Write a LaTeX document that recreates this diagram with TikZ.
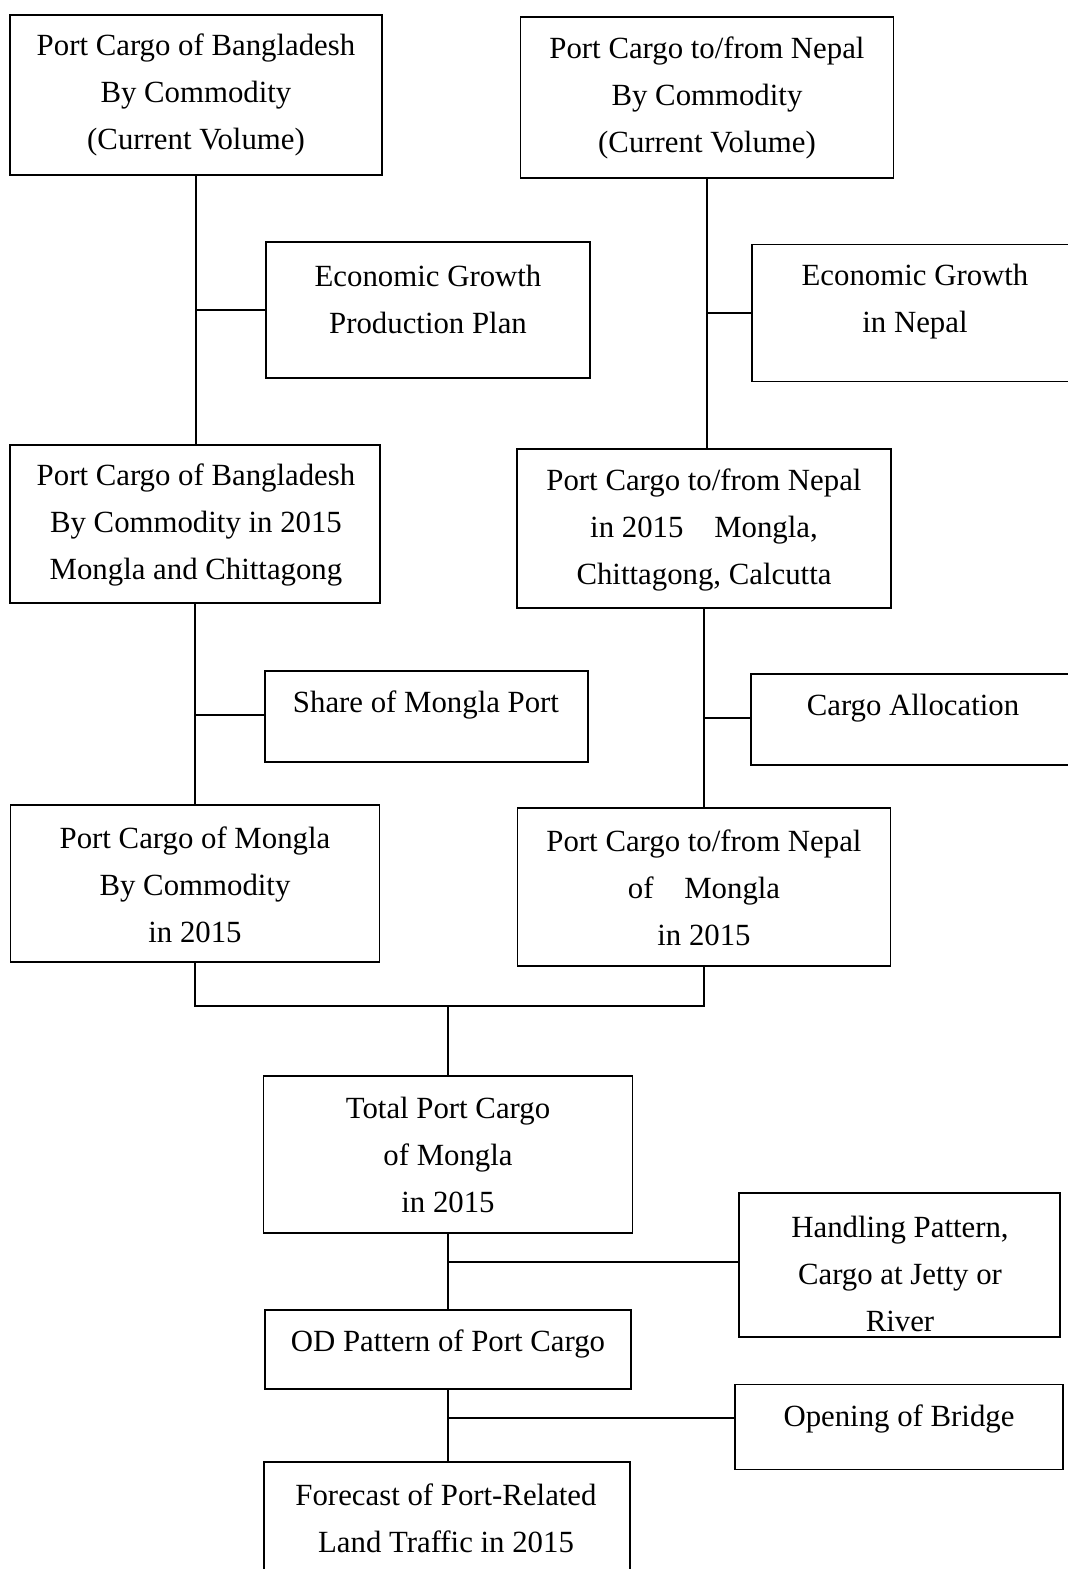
\documentclass[tikz,border=0pt]{standalone}
\usepackage{fontspec}
\setmainfont{Liberation Serif}
\usetikzlibrary{calc}
\begin{document}
\begin{tikzpicture}[x=1pt,y=-1pt,
  box/.style={draw, line width=1.6pt, inner sep=0pt},
  txt/.style={align=center, inner sep=0pt, yshift=-2pt, font=\fontsize{30.8}{47}\selectfont},
  conn/.style={line width=1.8pt}]
\useasboundingbox (0,0) rectangle (1068,1569);
% boxes
\node[box, minimum width=372pt, minimum height=160pt] (b1) at (196,95) {};
\node[box, minimum width=373pt, minimum height=161pt] (n1) at (707,97.5) {};
\node[box, minimum width=324pt, minimum height=136pt] (eg1) at (428,310) {};
\node[box, minimum width=326pt, minimum height=137pt] (egn) at (915,313) {};
\node[box, minimum width=370pt, minimum height=158pt] (b2) at (195,524) {};
\node[box, minimum width=374pt, minimum height=159pt] (n2) at (704,528.5) {};
\node[box, minimum width=323pt, minimum height=91pt] (share) at (426.5,716.5) {};
\node[box, minimum width=326pt, minimum height=91pt] (alloc) at (914,719.5) {};
\node[box, minimum width=369pt, minimum height=157pt] (b3) at (195,883.5) {};
\node[box, minimum width=373pt, minimum height=158pt] (n3) at (704,887) {};
\node[box, minimum width=369pt, minimum height=157pt] (total) at (448,1154.5) {};
\node[box, minimum width=321pt, minimum height=144pt] (hand) at (899.5,1265) {};
\node[box, minimum width=366pt, minimum height=79pt] (od) at (448,1349.5) {};
\node[box, minimum width=328pt, minimum height=85pt] (bridge) at (899,1427) {};
\node[box, minimum width=366pt, minimum height=138pt] (fc) at (447,1531) {};
% texts
\node[txt] (tb1) at (196,93) {Port Cargo of Bangladesh\\By Commodity\\(Current Volume)};
\node[txt] (tn1) at (707,96) {Port Cargo to/from Nepal\\By Commodity\\(Current Volume)};
\node[txt] (teg1) at (428,297) {Economic Growth\\Production Plan};
\node[txt] (tegn) at (915,300) {Economic Growth\\in Nepal};
\node[txt] (tb2) at (196,523) {Port Cargo of Bangladesh\\By Commodity in 2015\\Mongla and Chittagong};
\node[txt] (tn2) at (704,528) {Port Cargo to/from Nepal\\in 2015\quad Mongla,\\Chittagong, Calcutta};
\node[txt] (tshare) at (426,703) {Share of Mongla Port};
\node[txt] (talloc) at (913,706) {Cargo Allocation};
\node[txt] (tb3) at (195,883) {Port Cargo of Mongla\\By Commodity\\in 2015};
\node[txt] (tn3) at (704,886) {Port Cargo to/from Nepal\\of\quad Mongla\\in 2015};
\node[txt] (ttotal) at (448,1153) {Total Port Cargo\\of Mongla\\in 2015};
\node[txt] (thand) at (900,1272) {Handling Pattern,\\Cargo at Jetty or\\River};
\node[txt] (tod) at (448,1342) {OD Pattern of Port Cargo};
\node[txt] (tbridge) at (899,1417) {Opening of Bridge};
\node[txt] (tfc) at (446,1516) {Forecast of Port-Related\\Land Traffic in 2015};
% connectors
\draw[conn] (b1.south) -- (b1.south |- b2.north);
\draw[conn] (b1.south |- eg1.west) -- (eg1.west);
\draw[conn] (n1.south) -- (n1.south |- n2.north);
\draw[conn] (n1.south |- egn.west) -- (egn.west);
\draw[conn] (b2.south) -- (b2.south |- b3.north);
\draw[conn] ([yshift=1.5pt]b2.south |- share.west) -- ([yshift=1.5pt]share.west);
\draw[conn] (n2.south) -- (n2.south |- n3.north);
\draw[conn] ([yshift=1.5pt]n2.south |- alloc.west) -- ([yshift=1.5pt]alloc.west);
\coordinate (m) at (448,1006);
\draw[conn] (b3.south) |- (m) -| (n3.south);
\draw[conn] (m) -- (m |- total.north);
\draw[conn] (total.south) -- (total.south |- od.north);
\draw[conn] ([yshift=3pt]total.south |- hand.west) -- ([yshift=3pt]hand.west);
\draw[conn] (od.south) -- (od.south |- fc.north);
\draw[conn] ([yshift=9pt]od.south |- bridge.west) -- ([yshift=9pt]bridge.west);
\end{tikzpicture}
\end{document}
